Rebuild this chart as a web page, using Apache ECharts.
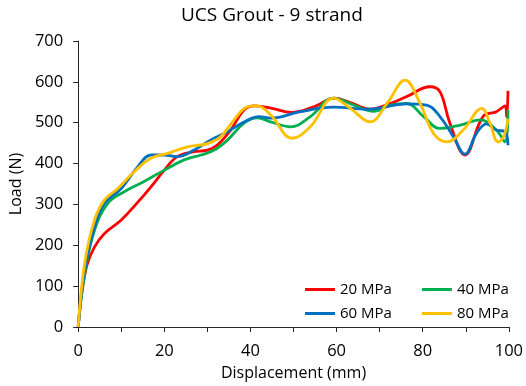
<!DOCTYPE html>
<html>
<head>
<meta charset="utf-8">
<script src="https://cdn.jsdelivr.net/npm/echarts@6/dist/echarts.min.js"></script>
<style>html,body{margin:0;padding:0;background:#fff;}#c{width:526px;height:386px;}</style>
</head>
<body>
<div id="c"></div>
<script>
const titleText = 'UCS Grout - 9 strand';
const xName = 'Displacement (mm)';
const yName = 'Load (N)';
const seriesNames = ['20 MPa', '40 MPa', '60 MPa', '80 MPa'];

const x20 = [0, 0.7, 2, 3.8, 6.1, 10, 13.8, 16.9, 20, 23, 26.9, 30, 32.3, 35.4, 38.5, 41, 45, 49.5, 55, 59.5, 63, 67.8, 72, 76.3, 81.7, 84, 86.3, 89.8, 94, 97.1, 99.1, 99.5, 99.8];
const y20 = [0, 73, 150, 196, 229, 262, 305, 343, 384, 417, 429, 433, 445, 482, 531, 541, 535, 525, 540, 560, 550, 533, 545, 564, 588, 576, 499, 421, 515, 527, 541, 515, 578];

const x40 = [0, 1.5, 3.8, 6.9, 10.7, 15.3, 20, 24.6, 28.5, 31.6, 34.7, 38.5, 41.6, 44.7, 49.3, 53.9, 59.3, 64, 68.6, 72.5, 76.3, 80.2, 84, 88.7, 93.3, 97.1, 99.1, 99.8];
const y40 = [0, 130, 237, 303, 331, 356, 384, 409, 421, 433, 458, 499, 512, 502, 490, 515, 560, 543, 528, 543, 547, 515, 486, 494, 507, 482, 453, 531];

const x60 = [0, 1.5, 3.8, 6.1, 10, 13.8, 16.9, 20, 23, 26.9, 30.8, 34.7, 38.5, 42, 44.7, 51.6, 59.3, 67.1, 76.3, 80.9, 84, 87.1, 89.8, 92.5, 94.8, 97.1, 99.1, 99.8];
const y60 = [0, 140, 245, 303, 339, 392, 421, 421, 417, 433, 458, 478, 502, 515, 511, 527, 538, 533, 546, 543, 515, 466, 423, 474, 497, 482, 478, 445];

const x80 = [0, 1.5, 3.8, 6.1, 9.2, 13, 16.9, 20.8, 25.4, 30, 33.1, 36.2, 39.3, 41.6, 44.7, 49.7, 53.9, 59.3, 63.2, 67.8, 71.7, 75.9, 79.4, 82.5, 85.6, 89.4, 93.7, 95.6, 97.5, 98.8, 99.8];
const y80 = [0, 156, 262, 311, 339, 380, 413, 425, 441, 449, 466, 507, 539, 541, 519, 462, 490, 560, 535, 502, 547, 604, 547, 474, 453, 482, 535, 499, 453, 466, 510];

const colors = ['#FF0000', '#00B050', '#0070C0', '#FFC000'];
const xsAll = [x20, x40, x60, x80];
const ysAll = [y20, y40, y60, y80];

const FONT = 'Open Sans';
const TXT = '#000000';

function pairs(xs, ys) { return xs.map((x, i) => [x, ys[i]]); }

const chart = echarts.init(document.getElementById('c'), null, { renderer: 'canvas' });
const legendCommon = {
  orient: 'horizontal',
  icon: 'rect',
  itemWidth: 30,
  itemHeight: 3,
  itemGap: 30,
  textStyle: { fontFamily: FONT, fontSize: 15, color: TXT },
  selectedMode: false
};
chart.setOption({
  animation: false,
  backgroundColor: '#fff',
  color: colors,
  title: {
    text: titleText,
    left: 176,
    top: 1,
    textStyle: { fontFamily: FONT, fontSize: 19, fontWeight: 'normal', color: TXT }
  },
  legend: [
    Object.assign({ data: [seriesNames[0], seriesNames[1]], left: 300, top: 277 }, legendCommon),
    Object.assign({ data: [seriesNames[2], seriesNames[3]], left: 300, top: 301 }, legendCommon)
  ],
  grid: { left: 77, right: 17, top: 41, bottom: 59, containLabel: false },
  xAxis: {
    type: 'value',
    min: 0, max: 100, interval: 20,
    name: xName,
    nameLocation: 'middle',
    nameGap: 38,
    nameTextStyle: { fontFamily: FONT, fontSize: 16, color: TXT },
    axisLine: { show: true, lineStyle: { color: '#262626', width: 1 } },
    axisTick: { show: true, inside: false, length: 5, lineStyle: { color: '#262626' } },
    minorTick: { show: true, splitNumber: 2, length: 5, lineStyle: { color: '#262626' } },
    axisLabel: { fontFamily: FONT, fontSize: 16.5, color: TXT, margin: 16 },
    splitLine: { show: false }
  },
  yAxis: {
    type: 'value',
    min: 0, max: 700, interval: 100,
    name: yName,
    nameLocation: 'middle',
    nameGap: 47,
    nameTextStyle: { fontFamily: FONT, fontSize: 16, color: TXT },
    axisLine: { show: true, lineStyle: { color: '#262626', width: 1 } },
    axisTick: { show: true, inside: false, length: 5, lineStyle: { color: '#262626' } },
    axisLabel: { fontFamily: FONT, fontSize: 16.5, color: TXT, margin: 15 },
    splitLine: { show: false }
  },
  series: seriesNames.map((n, i) => ({
    name: n,
    type: 'line',
    data: pairs(xsAll[i], ysAll[i]),
    smooth: 0.4,
    symbol: 'none',
    lineStyle: { color: colors[i], width: 2.8 },
    itemStyle: { color: colors[i] }
  }))
});
</script>
</body>
</html>
